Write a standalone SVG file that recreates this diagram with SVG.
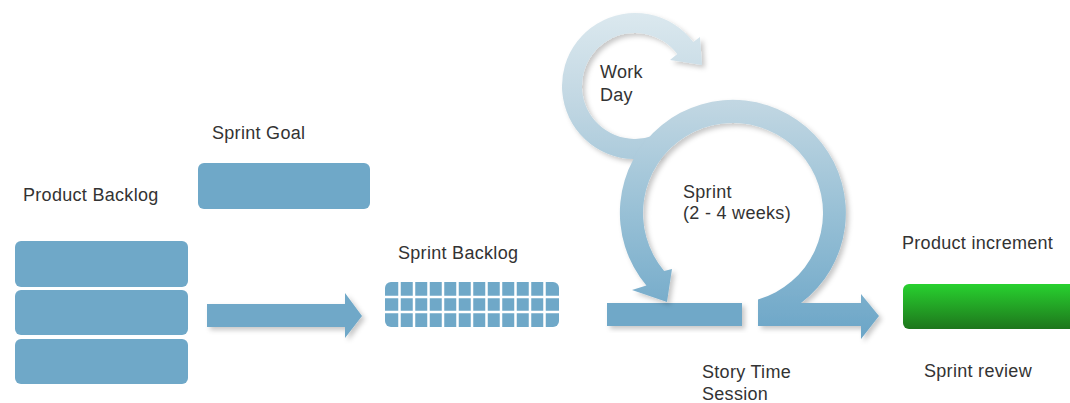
<svg xmlns="http://www.w3.org/2000/svg" width="1070" height="403" viewBox="0 0 1070 403">
  <defs>
    <linearGradient id="ringGrad" gradientUnits="userSpaceOnUse" x1="0" y1="10" x2="0" y2="330">
      <stop offset="0" stop-color="#dce9ef"/>
      <stop offset="0.3" stop-color="#c0d6e2"/>
      <stop offset="0.65" stop-color="#96bfd5"/>
      <stop offset="1" stop-color="#6ea7c8"/>
    </linearGradient>
    <linearGradient id="greenGrad" x1="0" y1="0" x2="0" y2="1">
      <stop offset="0" stop-color="#28d12f"/>
      <stop offset="1" stop-color="#1e761c"/>
    </linearGradient>
    <filter id="shadow" x="-10%" y="-10%" width="130%" height="140%">
      <feDropShadow dx="3" dy="3" stdDeviation="2.5" flood-color="#000" flood-opacity="0.22"/>
    </filter>
  </defs>
  <style>
    .lbl { font-family: "Liberation Sans", Arial, sans-serif; font-size: 18px; letter-spacing: 0.3px; fill: #333333; }
    .box { fill: #6fa8c8; }
    .arrow { fill: #6fa8c8; filter: url(#shadow); }
    .ring { fill: url(#ringGrad); filter: url(#shadow); }
    .gridline { stroke: #ffffff; stroke-width: 2.5; }
  </style>
  <rect width="1070" height="403" fill="#ffffff"/>

  <g id="product-backlog">
    <text class="lbl" x="23" y="201">Product Backlog</text>
    <rect class="box" x="15" y="241" width="173" height="46" rx="6"/>
    <rect class="box" x="15" y="290" width="173" height="45" rx="6"/>
    <rect class="box" x="15" y="339" width="173" height="45" rx="6"/>
  </g>

  <g id="sprint-goal">
    <text class="lbl" x="212" y="139">Sprint Goal</text>
    <rect class="box" x="198" y="163" width="172" height="46" rx="6"/>
  </g>

  <g id="sprint-backlog">
    <text class="lbl" x="398" y="259">Sprint Backlog</text>
    <rect class="box" x="385" y="282" width="174" height="45" rx="6"/>
    <g class="gridline">
      <line x1="385" y1="297" x2="559" y2="297"/>
      <line x1="385" y1="312" x2="559" y2="312"/>
      <line x1="399.5" y1="282" x2="399.5" y2="327"/>
      <line x1="414" y1="282" x2="414" y2="327"/>
      <line x1="428.5" y1="282" x2="428.5" y2="327"/>
      <line x1="443" y1="282" x2="443" y2="327"/>
      <line x1="457.5" y1="282" x2="457.5" y2="327"/>
      <line x1="472" y1="282" x2="472" y2="327"/>
      <line x1="486.5" y1="282" x2="486.5" y2="327"/>
      <line x1="501" y1="282" x2="501" y2="327"/>
      <line x1="515.5" y1="282" x2="515.5" y2="327"/>
      <line x1="530" y1="282" x2="530" y2="327"/>
      <line x1="544.5" y1="282" x2="544.5" y2="327"/>
    </g>
  </g>

  <g id="story-time">
    <rect class="arrow" x="607" y="303" width="135" height="23"/>
    <text class="lbl" x="702" y="378">Story Time</text>
    <text class="lbl" x="702" y="400">Session</text>
  </g>

  <g id="product-increment">
    <text class="lbl" x="902" y="249">Product increment</text>
    <rect x="903" y="284" width="180" height="45" rx="6" fill="url(#greenGrad)"/>
    <text class="lbl" x="924" y="377">Sprint review</text>
  </g>

  <g id="connectors">
    <path id="planning-arrow" class="arrow" d="M207 304 L345 304 L345 293 L362 316 L345 338 L345 327 L207 327 Z"/>
    <path id="work-day-cycle" class="ring" d="M660 154.6 A73 73 0 1 1 693.3 42.1 L700 37 L702 65 L670 60 L677.3 54.1 A53 53 0 1 0 653.1 135.8 Z"/>
    <path id="sprint-cycle" class="ring" d="M646.4 285.6 A113 113 0 1 1 801 303 L861 303 L861 294 L879 316 L861 339 L861 326 L758 326 L758 299.5 A90 90 0 1 0 664.1 270.9 L672 269 L667 302 L632 290 Z"/>
  </g>

  <g id="cycle-labels">
    <text class="lbl" x="600" y="78">Work</text>
    <text class="lbl" x="600" y="101">Day</text>
    <text class="lbl" x="683" y="198">Sprint</text>
    <text class="lbl" x="683" y="219">(2 - 4 weeks)</text>
  </g>
</svg>
